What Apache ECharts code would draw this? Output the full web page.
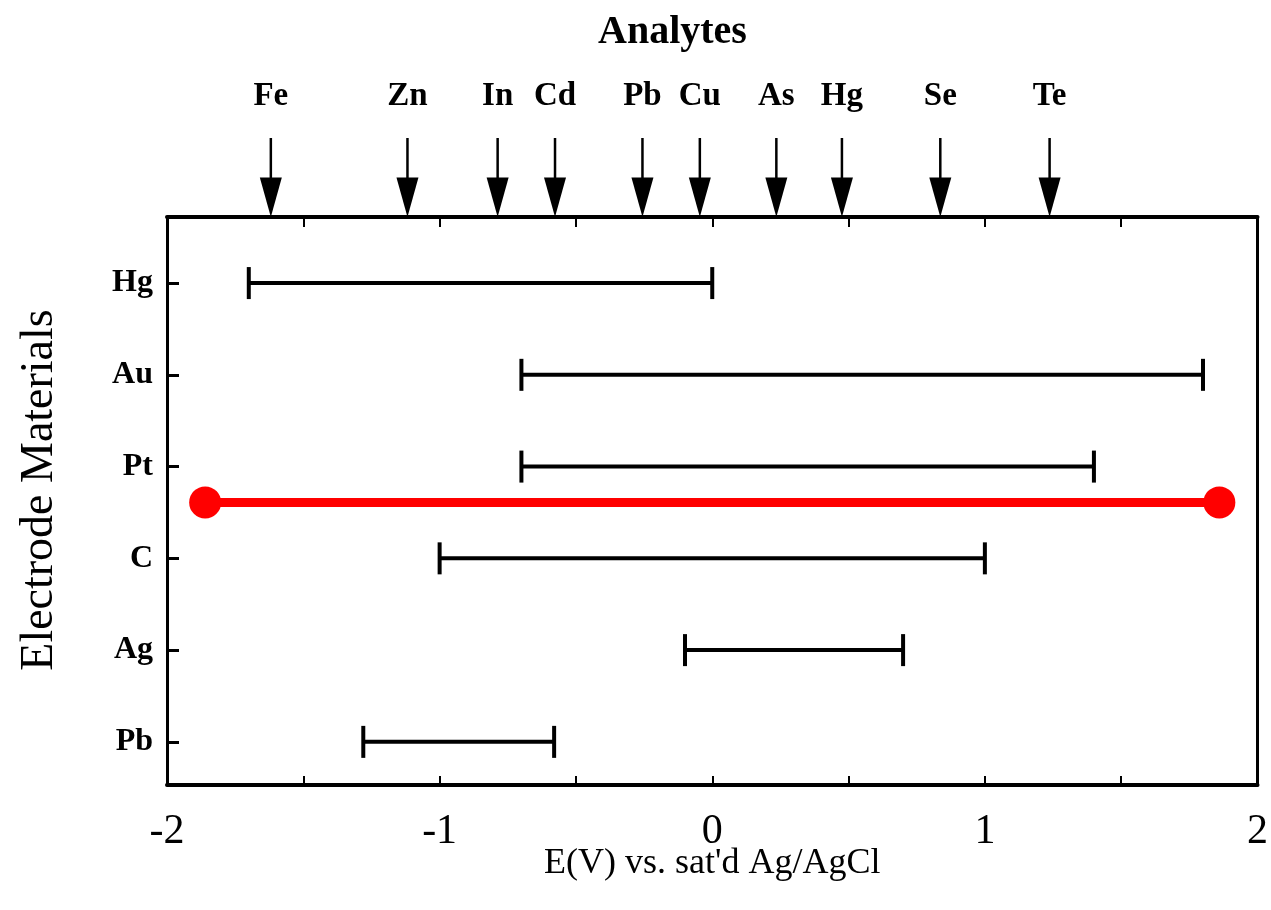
<!DOCTYPE html>
<html>
<head>
<meta charset="utf-8">
<script src="https://cdn.jsdelivr.net/npm/echarts@6/dist/echarts.min.js"></script>
<style>
html,body{margin:0;padding:0;background:#fff;}
#chart{width:1271px;height:910px;}
</style>
</head>
<body>
<div id="chart"></div>
<script>
// Electrode materials (bottom to top) and their potential windows (V)
const materials = ['Pb', 'Ag', 'C', 'Pt', 'Au', 'Hg'];
const windowLow = [-1.28, -0.10, -1.00, -0.70, -0.70, -1.70];
const windowHigh = [-0.58, 0.70, 1.00, 1.40, 1.80, 0.00];

// Analytes and their potentials (V)
const analytes = ['Fe', 'Zn', 'In', 'Cd', 'Pb', 'Cu', 'As', 'Hg', 'Se', 'Te'];
const analytePotential = [-1.62, -1.12, -0.79, -0.58, -0.26, -0.05, 0.23, 0.47, 0.83, 1.23];

// Highlighted (red) window
const redWindow = [-1.86, 1.86];
const redLevel = 2.61;

// X tick labels
const xTickValues = [-2, -1, 0, 1, 2];

const FONT = 'Liberation Serif';
const chart = echarts.init(document.getElementById('chart'));

const rangeData = materials.map((m, i) => [windowLow[i], windowHigh[i], i]);
const arrowData = analytes.map((a, i) => [analytePotential[i], 0, a]);

const yMin = -0.47, yMax = 5.72;

chart.setOption({
  animation: false,
  backgroundColor: '#fff',
  title: {
    text: 'Analytes',
    left: 593,
    top: 8,
    textStyle: {fontFamily: FONT, fontWeight: 'bold', fontSize: 40, color: '#000'}
  },
  grid: [
    {left: 167, right: 11, top: 217, bottom: 125, containLabel: false},
    {left: 167, right: 11, top: 138, height: 79, containLabel: false}
  ],
  xAxis: [
    {
      gridIndex: 0, type: 'value', position: 'bottom', min: -2, max: 2, interval: 0.5,
      name: "E(V) vs. sat'd Ag/AgCl", nameLocation: 'middle', nameGap: 61, nameMoveOverlap: false,
      nameTextStyle: {fontFamily: FONT, fontSize: 36, color: '#000'},
      axisLine: {show: true, onZero: false, lineStyle: {color: '#000', width: 4}},
      axisTick: {show: true, inside: true, length: 9, lineStyle: {color: '#000', width: 2}},
      axisLabel: {
        show: true, margin: 26, fontFamily: FONT, fontSize: 42, color: '#000',
        customValues: xTickValues,
        formatter: v => String(v)
      },
      splitLine: {show: false}
    },
    {
      gridIndex: 0, type: 'value', position: 'top', min: -2, max: 2, interval: 0.5,
      axisLine: {show: true, onZero: false, lineStyle: {color: '#000', width: 4}},
      axisTick: {show: true, inside: true, length: 10, lineStyle: {color: '#000', width: 2}},
      axisLabel: {show: false},
      splitLine: {show: false}
    },
    {
      gridIndex: 1, type: 'value', min: -2, max: 2, show: false
    }
  ],
  yAxis: [
    {
      gridIndex: 0, type: 'value', position: 'left', min: yMin, max: yMax,
      name: 'Electrode Materials', nameLocation: 'middle', nameGap: 104, nameRotate: 90,
      nameMoveOverlap: false,
      nameTextStyle: {fontFamily: FONT, fontSize: 46, color: '#000', padding: [0, 0, 0, 22]},
      axisLine: {show: true, onZero: false, lineStyle: {color: '#000', width: 3}},
      axisTick: {show: true, inside: true, length: 12, customValues: materials.map((m, i) => i),
        lineStyle: {color: '#000', width: 3}},
      axisLabel: {
        show: true, margin: 14, fontFamily: FONT, fontWeight: 'bold', fontSize: 32, color: '#000',
        customValues: materials.map((m, i) => i),
        formatter: v => materials[Math.round(v)] || ''
      },
      splitLine: {show: false}
    },
    {
      gridIndex: 0, type: 'value', position: 'right', min: yMin, max: yMax,
      axisLine: {show: true, onZero: false, lineStyle: {color: '#000', width: 3}},
      axisTick: {show: false}, axisLabel: {show: false}, splitLine: {show: false}
    },
    {
      gridIndex: 1, type: 'value', min: 0, max: 1, show: false
    }
  ],
  series: [
    {
      type: 'custom',
      xAxisIndex: 0, yAxisIndex: 0,
      data: rangeData,
      encode: {x: [0, 1], y: 2},
      renderItem: function (params, api) {
        const a = api.coord([api.value(0), api.value(2)]);
        const b = api.coord([api.value(1), api.value(2)]);
        const h = 16;
        const style = {stroke: '#000', lineWidth: 4};
        return {
          type: 'group',
          children: [
            {type: 'line', shape: {x1: a[0], y1: a[1], x2: b[0], y2: b[1]}, style: style},
            {type: 'line', shape: {x1: a[0], y1: a[1] - h, x2: a[0], y2: a[1] + h}, style: style},
            {type: 'line', shape: {x1: b[0], y1: b[1] - h, x2: b[0], y2: b[1] + h}, style: style}
          ]
        };
      }
    },
    {
      type: 'line',
      xAxisIndex: 0, yAxisIndex: 0,
      data: [[redWindow[0], redLevel], [redWindow[1], redLevel]],
      symbol: 'circle', symbolSize: 32,
      lineStyle: {color: '#ff0000', width: 9},
      itemStyle: {color: '#ff0000'},
      z: 5
    },
    {
      type: 'custom',
      xAxisIndex: 2, yAxisIndex: 2,
      data: arrowData,
      encode: {x: 0, y: 1},
      clip: false,
      renderItem: function (params, api) {
        const v = api.value(0);
        const tip = api.coord([v, 0]);
        const top = api.coord([v, 1]);
        const mid = api.coord([v, 0.5]);
        const hw = 11;
        return {
          type: 'group',
          children: [
            {type: 'line', shape: {x1: top[0], y1: top[1], x2: mid[0], y2: mid[1] + 2},
              style: {stroke: '#000', lineWidth: 2.5}},
            {type: 'polygon', shape: {points: [[mid[0] - hw, mid[1]], [mid[0] + hw, mid[1]], [tip[0], tip[1]]]},
              style: {fill: '#000'}},
            {type: 'text', x: top[0], y: top[1] - 42,
              style: {text: analytes[params.dataIndex], fontFamily: FONT, fontWeight: 'bold', fontSize: 33,
                fill: '#000', align: 'center', verticalAlign: 'middle'}}
          ]
        };
      }
    }
  ]
});
</script>
</body>
</html>
